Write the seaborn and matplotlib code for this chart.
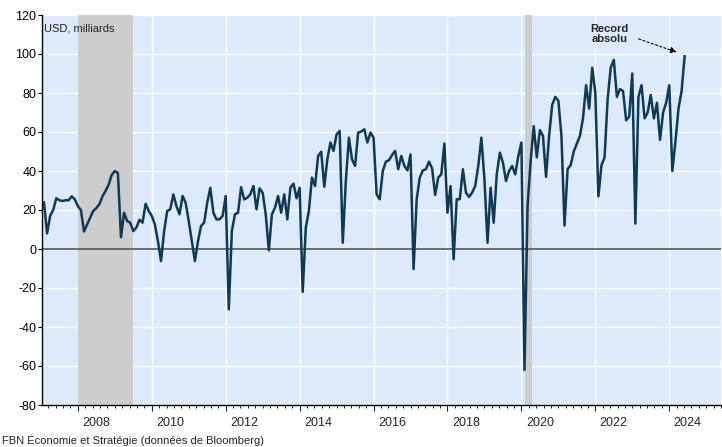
import numpy as np
import pandas as pd
import seaborn as sns
import matplotlib.pyplot as plt
from matplotlib.ticker import MultipleLocator
import matplotlib.transforms as mtransforms

# Valeurs mensuelles (USD, milliards), fevrier 2007 - juin 2024
valeurs = [
    24, 8, 17, 20, 26, 25, 24.6, 25, 25, 27, 25.5, 22, 20, 9, 12.6, 16, 19.5, 21, 23, 27,
    29.8, 33, 38, 40, 39, 6, 18.6, 14.3, 13.5, 9.2, 11, 15, 13.5, 23.2, 19.5, 17, 12.6, 4, -6.2, 9,
    19.5, 20.3, 28, 22, 17.8, 27.2, 23.7, 14.3, 4, -6.2, 4, 11.8, 13.5, 23.7, 31.4, 18.6, 15.2, 15.2, 17, 27.2,
    -31, 9.2, 17.8, 18.6, 31.7, 25.4, 26.3, 28, 32.3, 20.3, 31.1, 28.8, 17.8, -0.7, 17.8, 21.2, 27.2, 18.6, 28, 15.2,
    31.4, 33.5, 26, 31.4, -22, 10.9, 19.5, 36.6, 32.3, 47.7, 49.9, 31.9, 46, 54.6, 50.3, 58.8, 60.5, 3.2, 34.9, 57.1,
    46, 42.6, 59.7, 60.2, 61.4, 54.6, 59.7, 57.1, 28, 25.5, 40, 44.8, 45.5, 48.2, 50.3, 40.9, 47.7, 42.6, 40.3, 48.5,
    -10.3, 25.5, 36.6, 40.3, 40.9, 44.8, 41.4, 27.7, 36.6, 38.3, 54.1, 18.6, 32.3, -5.3, 25.5, 25.5, 40.9, 28.9, 26.7, 28.9,
    32.3, 42.6, 57.1, 35.7, 3.2, 31.4, 13.5, 38.3, 49.4, 44.3, 34.9, 40, 42.6, 38.3, 47.7, 54.6, -62,
    22, 45, 63, 47, 61, 58, 37, 58, 74, 78, 76, 58, 12, 41, 43, 50, 54, 58, 67, 84,
    72, 93, 80, 27, 43, 47, 77, 93, 97, 78, 82, 81, 66, 68, 90, 13, 78, 84, 67, 70,
    79, 67, 75, 56, 70, 75, 84, 40, 55, 72, 81, 99,
]
dates = pd.date_range("2007-02-01", periods=len(valeurs), freq="MS")
annees = dates.year + (dates.month - 1) / 12

# Recessions (debut, fin) en annees decimales
recessions = [(2008.0, 2009.5), (2020.1, 2020.3)]
annees_etiquettes = list(range(2008, 2025, 2))

df = pd.DataFrame({"annee": annees, "valeur": valeurs})

sns.set_style("white")
plt.rcParams["font.family"] = ["Liberation Sans", "DejaVu Sans"]
plt.rcParams["axes.unicode_minus"] = False

fig = plt.figure(figsize=(7.22, 4.47), dpi=100)
ax = fig.add_axes([42 / 722, 1 - 405 / 447, 679 / 722, 390 / 447])
ax.set_facecolor("#DDEAFB")

for debut, fin in recessions:
    ax.axvspan(debut, fin, color="#CDCDCD", lw=0, zorder=1)
ax.axhline(0, color="#555555", lw=1.2, zorder=2)

sns.lineplot(data=df, x="annee", y="valeur", ax=ax, color="#0C3A57", lw=1.8, zorder=3)

ax.set_xlim(2007.03, 2025.4)
ax.set_ylim(-80, 120)
ax.yaxis.set_major_locator(MultipleLocator(20))
ax.xaxis.set_major_locator(MultipleLocator(2))
ax.xaxis.set_minor_locator(MultipleLocator(0.2))
ax.set_xticklabels([])
ax.grid(True, which="major", color="white", lw=1.0, zorder=0)
ax.set_axisbelow(True)
ax.set_xlabel("")
ax.set_ylabel("")

for s in ["top", "right"]:
    ax.spines[s].set_visible(False)
for s in ["left", "bottom"]:
    ax.spines[s].set_color("black")
    ax.spines[s].set_linewidth(1.0)

ax.tick_params(axis="y", which="major", direction="out", length=3, width=0.8,
               colors="black", labelsize=9, pad=1, left=True)
ax.tick_params(axis="x", which="major", direction="out", length=4, width=0.8, bottom=True)
ax.tick_params(axis="x", which="minor", direction="out", length=2.5, width=0.7, bottom=True)

trans = mtransforms.blended_transform_factory(ax.transData, ax.transAxes)
for a in annees_etiquettes:
    ax.text(a + 0.5, -0.045, str(a), transform=trans, ha="center", va="center", fontsize=9)

ax.text(2007.08, 113, "USD, milliards", fontsize=8, va="center", ha="left", color="#222222")

ax.annotate("", xy=(2024.27, 100.5), xytext=(2023.1, 108.2),
            arrowprops=dict(arrowstyle="-|>", color="black", lw=0.8, ls=(0, (2, 2)),
                            mutation_scale=9))
ax.text(2022.38, 110.3, "Record\nabsolu", fontsize=8, fontweight="bold",
        ha="center", va="center", linespacing=1.1)

fig.text(2 / 722, 1 - 440 / 447, "FBN Économie et Stratégie (données de Bloomberg)",
         fontsize=8, ha="left", va="center", color="#222222")

fig.savefig("out.png", dpi=100)
